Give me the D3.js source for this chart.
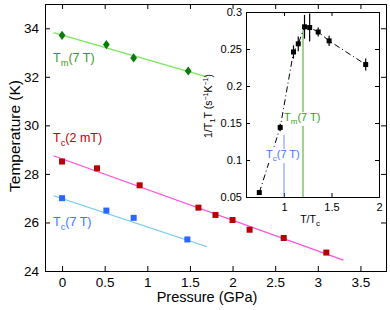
<!DOCTYPE html>
<html>
<head>
<meta charset="utf-8">
<script src="https://cdn.jsdelivr.net/npm/d3@7"></script>
<style>
body{margin:0;background:#fff;}
text{font-family:"Liberation Sans",Arial,sans-serif;}
</style>
</head>
<body>
<script>
// main panel data (pressure in GPa, temperature in K)
var tmP = [0, 0.52, 0.84, 1.48];
var tmT = [33.71, 33.33, 32.78, 32.24];
var tcP = [0, 0.41, 0.91, 1.6, 1.8, 2.0, 2.2, 2.6, 3.1];
var tcT = [28.51, 28.23, 27.53, 26.61, 26.31, 26.1, 25.7, 25.36, 24.76];
var tc7P = [0, 0.52, 0.84, 1.47];
var tc7T = [27.0, 26.49, 26.19, 25.3];
// fit lines [p0, t0, p1, t1]
var tmFit = [-0.1, 33.82, 1.7, 32.0];
var tcFit = [-0.1, 28.75, 3.3, 24.45];
var tc7Fit = [-0.1, 27.1, 1.7, 25.0];
var xTicks = [0, 0.5, 1, 1.5, 2, 2.5, 3, 3.5];
var yTicks = [24, 26, 28, 30, 32, 34];

// inset data (T/Tc, 1/T1T)
var inX = [0.74, 0.96, 1.1, 1.15, 1.216, 1.27, 1.36, 1.475, 1.86];
var inY = [0.056, 0.144, 0.246, 0.257, 0.28, 0.279, 0.273, 0.261, 0.229];
var inErr = [0, 0.005, 0.009, 0.01, 0.016, 0.019, 0.006, 0.007, 0.008];
var inXTicks = [1, 1.5, 2];
var inYTicks = [0.05, 0.1, 0.15, 0.2, 0.25, 0.3];

var w = 390, h = 310;
var svg = d3.select("body").append("svg")
	.attr("width", w)
	.attr("height", h);

var L = 45, R = 386, T = 4, B = 271;
var x = d3.scaleLinear().domain([-0.2, 3.8]).range([L, R]);
var y = d3.scaleLinear().domain([24, 35]).range([B, T]);

function fmt(d){ return d3.format("")(d); }

// axes with inward ticks on all four sides
svg.append("g").attr("transform", "translate(0," + B + ")")
	.call(d3.axisBottom(x).tickValues(xTicks).tickSize(-5).tickPadding(6).tickFormat(fmt));
svg.append("g").attr("transform", "translate(0," + T + ")")
	.call(d3.axisTop(x).tickValues(xTicks).tickSize(-5).tickFormat(""));
svg.append("g").attr("transform", "translate(" + L + ",0)")
	.call(d3.axisLeft(y).tickValues(yTicks).tickSize(-5).tickPadding(6).tickFormat(fmt));
svg.append("g").attr("transform", "translate(" + R + ",0)")
	.call(d3.axisRight(y).tickValues(yTicks).tickSize(-5).tickFormat(""));
svg.selectAll(".domain").attr("stroke", "#000");
svg.selectAll(".tick line").attr("stroke", "#000");
svg.selectAll(".tick text").attr("font-size", 13.5).attr("fill", "#000")
	.style("font-family", "Liberation Sans, Arial, sans-serif");

function fitLine(f, col)
{
	svg.append("line")
	.attr("x1", x(f[0])).attr("y1", y(f[1]))
	.attr("x2", x(f[2])).attr("y2", y(f[3]))
	.attr("stroke", col).attr("stroke-width", 1.2);
}
fitLine(tmFit, "#7ae65a");
fitLine(tcFit, "#ff4ee0");
fitLine(tc7Fit, "#6cc8f0");

// small diamonds, a bit taller than wide
var diamond = "M0,-4.6L3.4,0L0,4.6L-3.4,0Z";
svg.selectAll(".tm").data(tmP).enter().append("path")
	.attr("transform", function(d, i){ return "translate(" + x(d) + "," + y(tmT[i]) + ")"; })
	.attr("d", diamond).attr("fill", "#0d7a0d");

function squares(px, ty, col)
{
	svg.append("g").selectAll("rect").data(px).enter().append("rect")
	.attr("x", function(d){ return x(d) - 3; })
	.attr("y", function(d, i){ return y(ty[i]) - 3; })
	.attr("width", 6).attr("height", 6)
	.attr("fill", col);
}
squares(tcP, tcT, "#b80000");
squares(tc7P, tc7T, "#2a66ff");

function label(xp, yp, sub, rest, col, size)
{
	var t = svg.append("text").attr("x", xp).attr("y", yp)
		.attr("fill", col).attr("font-size", size);
	t.append("tspan").text("T");
	t.append("tspan").attr("dy", size * 0.3).attr("font-size", size * 0.75).text(sub);
	t.append("tspan").attr("dy", -size * 0.3).text(rest);
	return t;
}
label(53, 62, "m", "(7 T)", "#3a9a1a", 12.5);
label(53, 142, "c", "(2 mT)", "#c00000", 12.5);
label(53, 226, "c", "(7 T)", "#3c78ff", 12.5);

svg.append("text").attr("x", 207).attr("y", 302).attr("text-anchor", "middle")
	.attr("font-size", 14.5).text("Pressure (GPa)");
svg.append("text").attr("transform", "translate(20,136) rotate(-90)")
	.attr("text-anchor", "middle").attr("font-size", 15.5).text("Temperature (K)");

// inset
var iL = 246, iR = 379, iT = 12, iB = 197;
var ix = d3.scaleLinear().domain([0.6, 2]).range([iL, iR]);
var iy = d3.scaleLinear().domain([0.05, 0.3]).range([iB, iT]);
var inset = svg.append("g");
inset.append("rect").attr("x", iL).attr("y", iT)
	.attr("width", iR - iL).attr("height", iB - iT).attr("fill", "#fff");
inset.append("g").attr("transform", "translate(0," + iB + ")")
	.call(d3.axisBottom(ix).tickValues(inXTicks).tickSize(-4).tickPadding(6).tickFormat(fmt));
inset.append("g").attr("transform", "translate(0," + iT + ")")
	.call(d3.axisTop(ix).tickValues(inXTicks).tickSize(-4).tickFormat(""));
inset.append("g").attr("transform", "translate(" + iL + ",0)")
	.call(d3.axisLeft(iy).tickValues(inYTicks).tickSize(-4).tickPadding(4).tickFormat(fmt));
inset.append("g").attr("transform", "translate(" + iR + ",0)")
	.call(d3.axisRight(iy).tickValues(inYTicks).tickSize(-4).tickFormat(""));
inset.selectAll(".domain").attr("stroke", "#000");
inset.selectAll(".tick line").attr("stroke", "#000");
inset.selectAll(".tick text").attr("font-size", 11).attr("fill", "#000")
	.style("font-family", "Liberation Sans, Arial, sans-serif");

// vertical markers
inset.append("line").attr("x1", ix(1)).attr("x2", ix(1))
	.attr("y1", iy(0.05)).attr("y2", iy(0.134))
	.attr("stroke", "#6f90ff").attr("stroke-width", 1);
inset.append("line").attr("x1", ix(1.2)).attr("x2", ix(1.2))
	.attr("y1", iy(0.05)).attr("y2", iy(0.275))
	.attr("stroke", "#78c868").attr("stroke-width", 1.5);

var pts = inX.map(function(d, i){ return [d, inY[i]]; });
inset.append("path").datum(pts)
	.attr("d", d3.line().x(function(d){ return ix(d[0]); }).y(function(d){ return iy(d[1]); }))
	.attr("fill", "none").attr("stroke", "#000").attr("stroke-width", 1)
	.attr("stroke-dasharray", "6,3,1,3");

inset.selectAll(".ev").data(inX).enter().append("line")
	.attr("x1", function(d){ return ix(d); }).attr("x2", function(d){ return ix(d); })
	.attr("y1", function(d, i){ return iy(inY[i] - inErr[i]); })
	.attr("y2", function(d, i){ return iy(inY[i] + inErr[i]); })
	.attr("stroke", "#000").attr("stroke-width", 1.2);
inset.selectAll(".eh").data(inX.slice(1)).enter().append("line")
	.attr("x1", function(d){ return ix(d - 0.02); }).attr("x2", function(d){ return ix(d + 0.02); })
	.attr("y1", function(d, i){ return iy(inY[i + 1]); })
	.attr("y2", function(d, i){ return iy(inY[i + 1]); })
	.attr("stroke", "#000").attr("stroke-width", 1);
inset.selectAll(".ip").data(inX).enter().append("rect")
	.attr("x", function(d){ return ix(d) - 2.5; })
	.attr("y", function(d, i){ return iy(inY[i]) - 2.5; })
	.attr("width", 5).attr("height", 5).attr("fill", "#000");

// inset labels sit on a white patch that breaks the marker lines
function ilabel(xp, yp, sub, col)
{
	var g = inset.append("g");
	var bg = g.append("rect").attr("fill", "#fff");
	var t = g.append("text").attr("x", xp).attr("y", yp)
		.attr("fill", col).attr("font-size", 11);
	t.append("tspan").text("T");
	t.append("tspan").attr("dy", 3).attr("font-size", 8).text(sub);
	t.append("tspan").attr("dy", -3).text("(7 T)");
	var bb = t.node().getBBox();
	bg.attr("x", bb.x).attr("y", bb.y + 1).attr("width", bb.width).attr("height", bb.height - 1);
}
ilabel(284, 121, "m", "#3a9a1a");
ilabel(266, 158, "c", "#3c78ff");

var xl = inset.append("text").attr("x", 310).attr("y", 223)
	.attr("text-anchor", "middle").attr("font-size", 10.5);
xl.append("tspan").text("T/T");
xl.append("tspan").attr("dy", 3).attr("font-size", 8).text("c");

var yl = inset.append("text").attr("transform", "translate(212,106) rotate(-90)")
	.attr("text-anchor", "middle").attr("font-size", 10.5);
yl.append("tspan").text("1/T");
yl.append("tspan").attr("dy", 3).attr("font-size", 8).text("1");
yl.append("tspan").attr("dy", -3).text("T (s");
yl.append("tspan").attr("dy", -4).attr("font-size", 7).text("−1");
yl.append("tspan").attr("dy", 4).text("K");
yl.append("tspan").attr("dy", -4).attr("font-size", 7).text("−1");
yl.append("tspan").attr("dy", 4).text(")");
</script>
</body>
</html>
